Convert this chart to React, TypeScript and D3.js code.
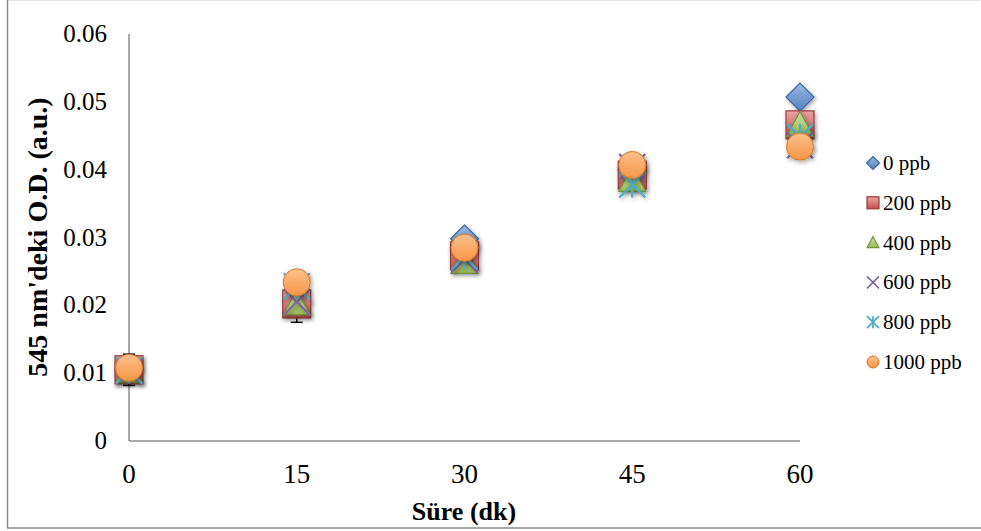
import React from "react";
import * as d3 from "d3";

const times = [0, 15, 30, 45, 60];
const seriesNames = ["0 ppb", "200 ppb", "400 ppb", "600 ppb", "800 ppb", "1000 ppb"];
const s0 = [0.0105, 0.0205, 0.0298, 0.0400, 0.0507];
const s200 = [0.0105, 0.0202, 0.0273, 0.0392, 0.0466];
const s400 = [0.0103, 0.0203, 0.0264, 0.0385, 0.0466];
const s600 = [0.0103, 0.0205, 0.0268, 0.0404, 0.0436];
const s800 = [0.0104, 0.0228, 0.0272, 0.0378, 0.0448];
const s1000 = [0.0108, 0.0234, 0.0285, 0.0407, 0.0434];
const err200 = [0.0023, 0.0027, 0.0015, 0.0015, 0.0018];
const yTicks = [0, 0.01, 0.02, 0.03, 0.04, 0.05, 0.06];
const xTicks = [0, 15, 30, 45, 60];

const W = 981, H = 531;
const font = "'Liberation Serif', 'Times New Roman', serif";

const colors = [
  { fill: "#4F81BD", light: "#9DB9E3", stroke: "#3A67A0" },
  { fill: "#C0504D", light: "#E9A3A1", stroke: "#943B39" },
  { fill: "#9BBB59", light: "#C9E09B", stroke: "#76923F" },
  { fill: "#8064A2", light: "#8064A2", stroke: "#7A5C9E" },
  { fill: "#4BACC6", light: "#4BACC6", stroke: "#3F9DB8" },
  { fill: "#F79646", light: "#FBC08D", stroke: "#D9772A" },
];

function Marker({ type, cx, cy, s }: { type: number; cx: number; cy: number; s: number }) {
  const c = colors[type];
  const h = s / 2;
  const grad = `url(#g${type})`;
  switch (type) {
    case 0:
      return <path d={`M${cx},${cy - h}L${cx + h},${cy}L${cx},${cy + h}L${cx - h},${cy}Z`} fill={grad} stroke={c.stroke} strokeWidth={1.2} />;
    case 1:
      return <rect x={cx - h} y={cy - h} width={s} height={s} fill={grad} stroke={c.stroke} strokeWidth={1.2} />;
    case 2:
      return <path d={`M${cx},${cy - h}L${cx + h},${cy + h * 0.85}L${cx - h},${cy + h * 0.85}Z`} fill={grad} stroke={c.stroke} strokeWidth={1.2} />;
    case 3:
      return <path d={`M${cx - h},${cy - h}L${cx + h},${cy + h}M${cx + h},${cy - h}L${cx - h},${cy + h}`} stroke={c.fill} strokeWidth={s > 14 ? 2.2 : 1.6} fill="none" />;
    case 4:
      return <path d={`M${cx - h},${cy - h}L${cx + h},${cy + h}M${cx + h},${cy - h}L${cx - h},${cy + h}M${cx},${cy - h}L${cx},${cy + h}`} stroke={c.fill} strokeWidth={s > 14 ? 2.2 : 1.8} fill="none" />;
    default:
      return <circle cx={cx} cy={cy} r={h} fill={grad} stroke={c.stroke} strokeWidth={1} />;
  }
}

export default function App() {
  const x = d3.scaleLinear().domain([0, 60]).range([129, 800]);
  const y = d3.scaleLinear().domain([0, 0.06]).range([441, 34]);
  const series = [s0, s200, s400, s600, s800, s1000];
  const sizes = [28, 28, 27, 26, 26, 27];

  return (
    <svg width={W} height={H} style={{ position: "absolute", left: 0, top: 0, background: "#fff" }}>
      <defs>
        {colors.map((c, i) => (
          <linearGradient key={i} id={`g${i}`} x1="0" y1="0" x2="0" y2="1">
            <stop offset="0" stopColor={c.light} />
            <stop offset="1" stopColor={c.fill} />
          </linearGradient>
        ))}
        <filter id="sh" x="-50%" y="-50%" width="200%" height="200%">
          <feDropShadow dx="1.5" dy="2" stdDeviation="2" floodColor="#000" floodOpacity="0.35" />
        </filter>
      </defs>
      <rect x={0} y={0} width={W} height={H} fill="#fff" />
      <line x1={7} x2={980} y1={0.5} y2={0.5} stroke="#e4e4e4" strokeWidth={1} />
      <line x1={7.5} x2={7.5} y1={0} y2={528} stroke="#8a8a8a" strokeWidth={1.5} />
      <line x1={7} x2={981} y1={528} y2={528} stroke="#8a8a8a" strokeWidth={1.5} />
      {/* axes */}
      <line x1={x(0)} x2={x(60)} y1={y(0)} y2={y(0)} stroke="#8c8c8c" strokeWidth={1.5} />
      <line x1={x(0)} x2={x(0)} y1={y(0)} y2={y(0.06)} stroke="#8c8c8c" strokeWidth={1.5} />
      {yTicks.map((t) => (
        <text key={t} x={107} y={y(t) + 8} textAnchor="end" fontFamily={font} fontSize={25} fill="#000">
          {d3.format("")(t)}
        </text>
      ))}
      {xTicks.map((t) => (
        <text key={t} x={x(t)} y={483} textAnchor="middle" fontFamily={font} fontSize={27} fill="#000">
          {t}
        </text>
      ))}
      <text x={464} y={520} textAnchor="middle" fontFamily={font} fontSize={26} fontWeight="bold">Süre (dk)</text>
      <text transform={`translate(47,237) rotate(-90)`} textAnchor="middle" fontFamily={font} fontSize={28} fontWeight="bold">
        545 nm'deki O.D. (a.u.)
      </text>
      {/* error bars */}
      {times.map((t, i) => (
        <g key={"e" + i} stroke="#000" strokeWidth={1.5}>
          <line x1={x(t)} x2={x(t)} y1={y(s200[i] - err200[i])} y2={y(s200[i] + err200[i])} />
          <line x1={x(t) - 6} x2={x(t) + 6} y1={y(s200[i] - err200[i])} y2={y(s200[i] - err200[i])} />
          <line x1={x(t) - 6} x2={x(t) + 6} y1={y(s200[i] + err200[i])} y2={y(s200[i] + err200[i])} />
        </g>
      ))}
      {series.map((s, k) => (
        <g key={k} filter="url(#sh)">
          {s.map((v, i) => (
            <Marker key={i} type={k} cx={x(times[i])} cy={y(v)} s={sizes[k]} />
          ))}
        </g>
      ))}
      {/* legend */}
      {seriesNames.map((n, k) => {
        const ly = 163 + k * 39.8;
        return (
          <g key={n}>
            <Marker type={k} cx={873} cy={ly} s={k === 0 ? 13 : 12} />
            <text x={883} y={ly + 7} fontFamily={font} fontSize={21}>{n}</text>
          </g>
        );
      })}
    </svg>
  );
}
